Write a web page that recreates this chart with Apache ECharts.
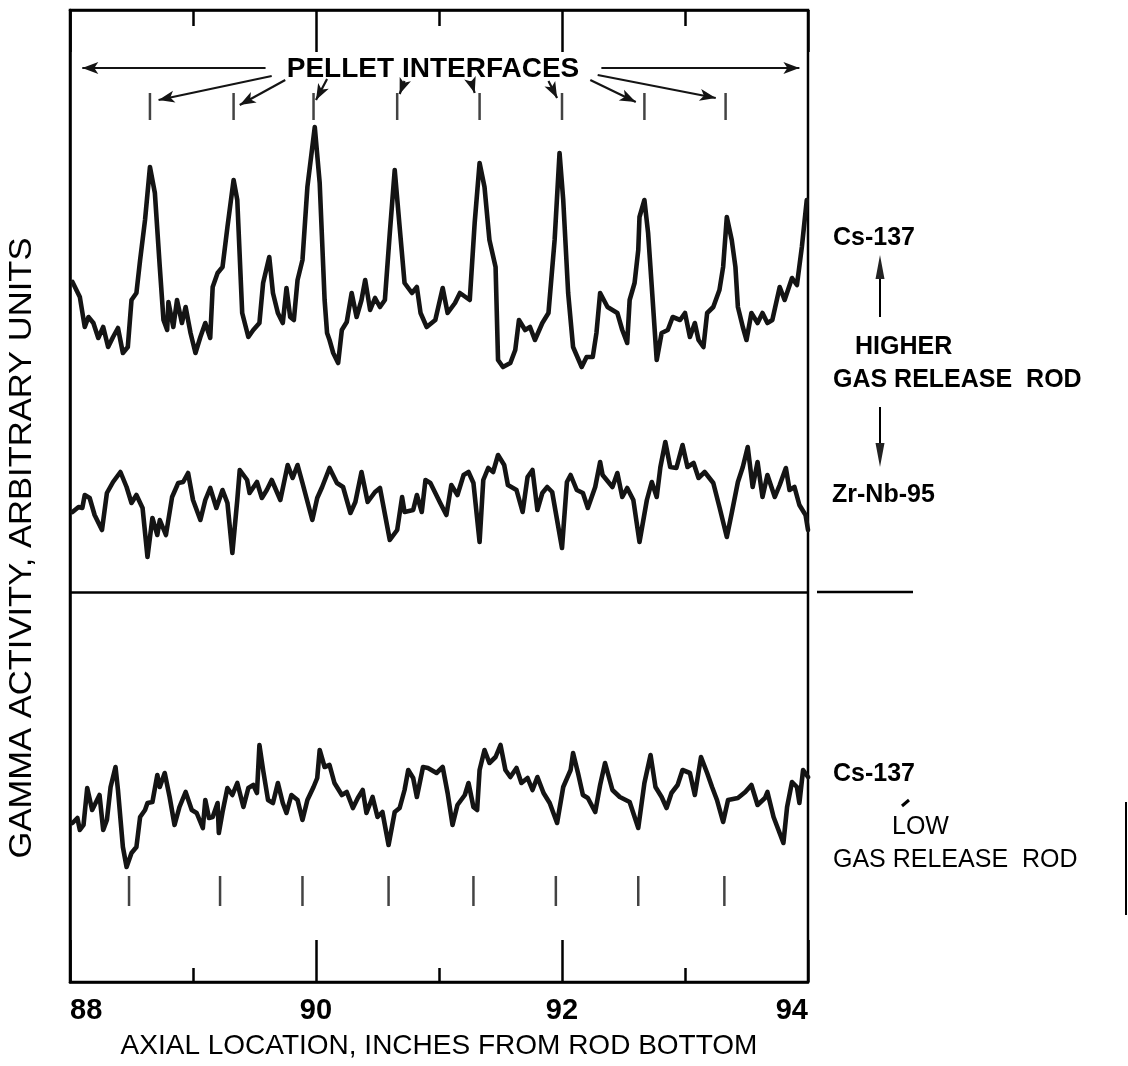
<!DOCTYPE html>
<html>
<head>
<meta charset="utf-8">
<style>
  html, body { margin: 0; padding: 0; background: #fff; }
  #chart { width: 1128px; height: 1066px; }
</style>
<script src="https://cdn.jsdelivr.net/npm/echarts@6/dist/echarts.min.js"></script>
</head>
<body>
<div id="chart"></div>
<script>
// ---------- DATA (axial location in inches, gamma activity in arbitrary units) ----------
const xMajorTicks = [88, 90, 92, 94];

const cs137High = [
  [88.02,70.0],[88.08,68.5],[88.12,65.5],[88.15,66.5],[88.19,65.9],[88.23,64.4],[88.27,65.5],[88.31,63.5],
  [88.35,64.5],[88.39,65.4],[88.43,62.9],[88.47,63.5],[88.50,68.2],[88.54,68.9],[88.57,72.2],[88.61,76.2],
  [88.65,81.5],[88.69,78.9],[88.73,71.5],[88.76,66.2],[88.79,65.2],[88.80,68.0],[88.84,65.5],[88.87,68.2],
  [88.91,65.9],[88.94,67.5],[88.98,64.9],[89.02,62.9],[89.06,64.5],[89.10,65.9],[89.14,64.4],[89.16,69.5],
  [89.20,70.9],[89.24,71.5],[89.28,75.5],[89.33,80.2],[89.36,78.2],[89.40,66.9],[89.45,64.5],[89.49,65.2],
  [89.54,65.9],[89.57,69.9],[89.62,72.5],[89.65,68.9],[89.69,66.9],[89.73,65.9],[89.76,69.4],[89.79,66.5],
  [89.82,66.2],[89.85,70.2],[89.89,72.2],[89.93,79.5],[89.99,85.5],[90.03,79.9],[90.07,68.2],[90.09,64.9],
  [90.11,64.2],[90.14,62.9],[90.18,61.9],[90.21,65.2],[90.25,66.0],[90.29,68.9],[90.33,66.5],[90.37,68.2],
  [90.40,70.2],[90.44,67.2],[90.48,68.4],[90.52,67.5],[90.56,68.2],[90.60,74.9],[90.64,81.2],[90.68,75.5],
  [90.72,69.9],[90.78,68.9],[90.82,69.5],[90.85,66.9],[90.90,65.5],[90.97,66.2],[91.03,69.4],[91.07,66.9],
  [91.13,67.9],[91.17,68.9],[91.25,68.2],[91.29,75.9],[91.33,81.9],[91.37,79.5],[91.41,74.2],[91.46,71.5],
  [91.48,62.2],[91.52,61.5],[91.58,61.9],[91.62,63.2],[91.65,66.2],[91.70,65.2],[91.74,65.5],[91.78,64.2],
  [91.84,65.9],[91.89,66.9],[91.94,74.2],[91.98,82.9],[92.01,78.2],[92.05,68.9],[92.09,63.5],[92.16,61.5],
  [92.20,62.5],[92.25,62.5],[92.28,64.9],[92.31,68.9],[92.37,67.5],[92.45,66.9],[92.49,65.2],[92.53,63.9],
  [92.55,68.2],[92.59,69.9],[92.62,73.2],[92.63,76.5],[92.67,78.2],[92.70,74.9],[92.73,69.5],[92.77,62.2],
  [92.81,64.9],[92.86,65.2],[92.90,66.5],[92.96,66.2],[93.00,66.9],[93.04,64.5],[93.08,65.9],[93.11,64.2],
  [93.15,63.5],[93.18,66.9],[93.23,67.5],[93.28,69.2],[93.31,71.5],[93.34,76.5],[93.38,74.2],[93.41,71.5],
  [93.43,67.5],[93.47,65.5],[93.50,64.2],[93.54,66.9],[93.59,65.9],[93.63,66.9],[93.67,65.9],[93.71,66.2],
  [93.77,69.5],[93.81,68.2],[93.87,70.4],[93.91,69.7],[93.95,73.5],[93.99,78.2]
];

const zrNb95High = [
  [88.02,47.0],[88.07,47.5],[88.10,47.4],[88.12,48.7],[88.16,48.4],[88.20,46.7],[88.26,45.2],[88.30,48.9],
  [88.35,50.0],[88.41,51.0],[88.46,49.5],[88.50,47.9],[88.54,48.7],[88.59,47.4],[88.63,42.5],[88.67,46.4],
  [88.71,44.7],[88.73,46.2],[88.78,44.7],[88.83,48.5],[88.88,49.9],[88.92,50.0],[88.96,50.9],[89.00,48.2],
  [89.06,46.2],[89.10,48.2],[89.14,49.4],[89.19,47.4],[89.24,49.2],[89.28,47.9],[89.32,42.9],[89.36,48.2],
  [89.38,51.2],[89.44,50.2],[89.46,48.9],[89.52,50.0],[89.56,48.4],[89.60,49.2],[89.64,50.2],[89.71,48.2],
  [89.77,51.7],[89.81,50.4],[89.85,51.7],[89.89,49.9],[89.97,46.2],[90.01,48.4],[90.05,49.5],[90.11,51.4],
  [90.17,49.9],[90.22,49.5],[90.28,46.9],[90.32,48.0],[90.37,51.0],[90.42,48.0],[90.48,49.0],[90.52,49.4],
  [90.60,44.2],[90.66,45.2],[90.70,48.5],[90.72,47.0],[90.79,47.2],[90.82,48.7],[90.86,47.0],[90.89,50.2],
  [90.93,49.9],[90.97,48.9],[91.01,47.9],[91.06,46.7],[91.10,49.7],[91.15,48.7],[91.20,50.7],[91.24,51.0],
  [91.28,49.9],[91.33,44.0],[91.36,50.2],[91.40,51.4],[91.44,51.0],[91.48,52.7],[91.53,51.7],[91.56,49.7],
  [91.63,49.2],[91.68,47.0],[91.72,50.5],[91.76,51.2],[91.80,47.2],[91.84,48.9],[91.88,49.5],[91.92,49.0],
  [92.00,43.4],[92.04,50.0],[92.07,50.7],[92.12,49.2],[92.17,48.9],[92.21,47.4],[92.27,49.5],[92.31,52.0],
  [92.33,50.7],[92.41,49.5],[92.45,50.9],[92.49,48.5],[92.53,49.4],[92.58,48.2],[92.63,44.0],[92.69,48.2],
  [92.73,50.0],[92.77,48.5],[92.80,51.5],[92.84,54.0],[92.88,51.5],[92.93,51.4],[92.98,53.7],[93.02,51.5],
  [93.07,51.9],[93.11,50.4],[93.16,51.0],[93.23,49.9],[93.28,47.5],[93.34,44.5],[93.38,46.9],[93.43,50.0],
  [93.47,51.5],[93.51,53.5],[93.55,49.5],[93.59,52.0],[93.63,48.5],[93.67,50.7],[93.73,48.5],[93.77,49.7],
  [93.82,51.4],[93.85,49.2],[93.89,49.5],[93.93,47.7],[93.98,46.7],[94.00,45.2]
];

const cs137Low = [
  [88.02,15.9],[88.06,16.4],[88.08,15.2],[88.11,15.7],[88.14,19.4],[88.18,17.2],[88.22,18.2],[88.24,18.7],
  [88.27,15.2],[88.30,16.2],[88.33,19.5],[88.37,21.5],[88.39,19.2],[88.43,13.5],[88.46,11.5],[88.50,12.9],
  [88.54,13.5],[88.57,16.5],[88.61,17.2],[88.63,17.9],[88.67,18.0],[88.71,20.7],[88.73,19.5],[88.77,20.9],
  [88.81,18.5],[88.85,15.7],[88.89,17.5],[88.94,19.0],[88.99,17.2],[89.03,16.9],[89.08,15.4],[89.10,18.2],
  [89.13,16.4],[89.16,16.5],[89.20,17.9],[89.21,14.9],[89.24,17.0],[89.28,19.4],[89.32,18.7],[89.36,19.9],
  [89.41,17.5],[89.45,19.4],[89.49,19.7],[89.52,18.9],[89.54,23.7],[89.57,21.2],[89.61,18.2],[89.65,17.9],
  [89.69,19.9],[89.73,17.9],[89.76,16.9],[89.80,18.7],[89.85,18.2],[89.89,16.2],[89.93,18.2],[89.98,19.5],
  [90.01,20.4],[90.03,23.2],[90.07,21.5],[90.11,21.7],[90.15,19.9],[90.21,18.7],[90.25,19.0],[90.30,17.4],
  [90.34,18.4],[90.38,19.2],[90.41,16.9],[90.46,18.5],[90.50,16.5],[90.54,17.0],[90.59,13.7],[90.64,17.0],
  [90.68,17.4],[90.72,19.2],[90.75,21.2],[90.79,20.4],[90.82,18.5],[90.87,21.5],[90.91,21.4],[90.98,20.9],
  [91.03,21.5],[91.07,18.9],[91.11,15.7],[91.15,17.7],[91.21,18.7],[91.24,19.9],[91.28,17.5],[91.31,17.2],
  [91.33,21.2],[91.37,23.2],[91.41,21.9],[91.46,22.5],[91.50,23.7],[91.54,21.2],[91.58,20.5],[91.63,21.4],
  [91.67,19.9],[91.72,20.4],[91.76,19.2],[91.80,20.5],[91.85,18.9],[91.90,17.9],[91.96,15.9],[92.01,19.5],
  [92.07,21.2],[92.09,22.9],[92.13,20.9],[92.17,18.7],[92.21,18.4],[92.27,17.0],[92.31,19.7],[92.35,21.9],
  [92.41,19.2],[92.47,18.5],[92.55,18.0],[92.62,15.4],[92.67,19.9],[92.72,22.7],[92.76,19.5],[92.81,18.5],
  [92.85,17.4],[92.89,18.9],[92.94,19.7],[92.98,21.2],[93.04,20.9],[93.08,18.7],[93.13,22.5],[93.18,20.9],
  [93.22,19.5],[93.26,18.2],[93.31,16.0],[93.35,18.2],[93.43,18.4],[93.49,19.0],[93.54,19.7],[93.59,17.7],
  [93.65,18.4],[93.67,19.0],[93.72,16.5],[93.76,15.2],[93.80,13.9],[93.83,17.5],[93.87,20.0],[93.91,19.5],
  [93.93,17.9],[93.96,21.2],[94.00,20.5]
];

// pellet interface positions (inches)
const interfacesHigh = [88.65, 89.33, 89.98, 90.66, 91.33, 92.00, 92.67, 93.33];
const interfacesLow  = [88.48, 89.22, 89.89, 90.59, 91.28, 91.95, 92.62, 93.32];
const interfaceMarkHighY = 87.55;
const interfaceMarkLowY = 9.1;

// "PELLET INTERFACES" arrows: [fromX, fromY, toX, toY] in data units
const pelletArrows = [
  [89.59, 91.4, 88.10, 91.4],
  [92.32, 91.4, 93.93, 91.4],
  [89.64, 90.6, 88.72, 88.2],
  [89.75, 90.2, 89.38, 87.7],
  [90.09, 90.3, 90.00, 88.2],
  [90.72, 90.1, 90.68, 88.8],
  [91.26, 90.1, 91.29, 88.9],
  [91.89, 90.1, 91.96, 88.4],
  [92.23, 90.2, 92.60, 88.0],
  [92.29, 90.7, 93.25, 88.4]
];
const separatorY = 39.0;

// ---------- CHART ----------
const chart = echarts.init(document.getElementById('chart'), null, { renderer: 'canvas' });
const FONT = 'Liberation Sans, Arial, Helvetica, sans-serif';
const INK = '#141414';

const traceStyle = { color: INK, width: 4.6, join: 'round', cap: 'round' };

const option = {
  animation: false,
  backgroundColor: '#fff',
  grid: { left: 70, right: 320, top: 10, bottom: 84, show: true, borderColor: '#000', borderWidth: 2.5, backgroundColor: 'transparent' },
  xAxis: [
    {
      type: 'value', min: 88, max: 94, interval: 2, position: 'bottom',
      axisLine: { show: true, onZero: false, lineStyle: { color: '#000', width: 2.5 } },
      axisTick: { show: true, inside: true, length: 42, lineStyle: { color: '#000', width: 2.5 } },
      minorTick: { show: true, splitNumber: 2, length: 14, lineStyle: { color: '#000', width: 2.5 } },
      splitLine: { show: false },
      axisLabel: {
        show: true, margin: 14, color: '#000', fontFamily: FONT, fontSize: 29, fontWeight: 'bold',
        alignMinLabel: 'left', alignMaxLabel: 'right',
        formatter: v => xMajorTicks.includes(v) ? String(v) : ''
      },
      name: 'AXIAL LOCATION, INCHES FROM ROD BOTTOM',
      nameLocation: 'middle', nameGap: 50,
      nameTextStyle: { color: '#000', fontFamily: FONT, fontSize: 28 }
    },
    {
      type: 'value', min: 88, max: 94, interval: 2, position: 'top',
      axisLine: { show: true, onZero: false, lineStyle: { color: '#000', width: 2.5 } },
      axisTick: { show: true, inside: true, length: 42, lineStyle: { color: '#000', width: 2.5 } },
      minorTick: { show: true, splitNumber: 2, length: 16, lineStyle: { color: '#000', width: 2.5 } },
      splitLine: { show: false },
      axisLabel: { show: false }
    }
  ],
  yAxis: [{
    type: 'value', min: 0, max: 97.2,
    axisLine: { show: true, onZero: false, lineStyle: { color: '#000', width: 2.5 } },
    axisTick: { show: false }, axisLabel: { show: false }, splitLine: { show: false }
  }],
  series: [
    {
      name: 'Cs-137 (higher gas release rod)', type: 'line', data: cs137High,
      showSymbol: false, lineStyle: traceStyle, z: 3,
      markLine: {
        silent: true, animation: false,
        symbol: ['none', 'arrow'], symbolSize: [9, 16],
        label: { show: false },
        lineStyle: { color: INK, width: 2.2, type: 'solid' },
        data: pelletArrows.map(a => [{ coord: [a[0], a[1]] }, { coord: [a[2], a[3]] }])
          .concat([[{ coord: [88, separatorY], symbol: 'none' }, { coord: [94, separatorY], symbol: 'none', lineStyle: { width: 2.5, color: '#000' } }]])
      }
    },
    { name: 'Zr-Nb-95 (higher gas release rod)', type: 'line', data: zrNb95High, showSymbol: false, lineStyle: traceStyle, z: 3 },
    { name: 'Cs-137 (low gas release rod)', type: 'line', data: cs137Low, showSymbol: false, lineStyle: traceStyle, z: 3 },
    {
      name: 'interfaces high', type: 'scatter', symbol: 'rect', symbolSize: [2.5, 27],
      itemStyle: { color: INK }, silent: true,
      data: interfacesHigh.map(x => [x, interfaceMarkHighY])
    },
    {
      name: 'interfaces low', type: 'scatter', symbol: 'rect', symbolSize: [2.5, 30],
      itemStyle: { color: INK }, silent: true,
      data: interfacesLow.map(x => [x, interfaceMarkLowY])
    }
  ],
  graphic: [
    // y axis title
    { type: 'text', x: 22, y: 548, rotation: Math.PI / 2, scaleX: 1.08,
      style: { text: 'GAMMA ACTIVITY, ARBITRARY UNITS', fontFamily: FONT, fontSize: 32, fill: '#000', align: 'center', verticalAlign: 'middle' } },
    // top annotation
    { type: 'text', x: 433, y: 69,
      style: { text: 'PELLET INTERFACES', fontFamily: FONT, fontSize: 28, fontWeight: 'bold', fill: '#000', align: 'center', verticalAlign: 'middle' } },
    // right labels
    { type: 'text', x: 833, y: 238, style: { text: 'Cs-137', fontFamily: FONT, fontSize: 25, fontWeight: 'bold', fill: '#000', align: 'left', verticalAlign: 'middle' } },
    { type: 'line', shape: { x1: 880, y1: 317, x2: 880, y2: 276 }, style: { stroke: '#000', lineWidth: 2 } },
    { type: 'polygon', shape: { points: [[880, 255], [875.5, 279], [884.5, 279]] }, style: { fill: '#222' } },
    { type: 'text', x: 855, y: 347, style: { text: 'HIGHER', fontFamily: FONT, fontSize: 25, fontWeight: 'bold', fill: '#000', align: 'left', verticalAlign: 'middle' } },
    { type: 'text', x: 833, y: 380, style: { text: 'GAS RELEASE  ROD', fontFamily: FONT, fontSize: 25, fontWeight: 'bold', fill: '#000', align: 'left', verticalAlign: 'middle' } },
    { type: 'line', shape: { x1: 880, y1: 407, x2: 880, y2: 446 }, style: { stroke: '#000', lineWidth: 2 } },
    { type: 'polygon', shape: { points: [[875.5, 443], [884.5, 443], [880, 467]] }, style: { fill: '#222' } },
    { type: 'text', x: 832, y: 495, style: { text: 'Zr-Nb-95', fontFamily: FONT, fontSize: 25, fontWeight: 'bold', fill: '#000', align: 'left', verticalAlign: 'middle' } },
    { type: 'line', shape: { x1: 817, y1: 592, x2: 913, y2: 592 }, style: { stroke: '#000', lineWidth: 2.5 } },
    { type: 'text', x: 833, y: 774, style: { text: 'Cs-137', fontFamily: FONT, fontSize: 25, fontWeight: 'bold', fill: '#000', align: 'left', verticalAlign: 'middle' } },
    { type: 'line', shape: { x1: 902, y1: 806, x2: 909, y2: 800 }, style: { stroke: '#000', lineWidth: 3 } },
    { type: 'text', x: 892, y: 827, style: { text: 'LOW', fontFamily: FONT, fontSize: 25, fill: '#000', align: 'left', verticalAlign: 'middle' } },
    { type: 'text', x: 833, y: 860, style: { text: 'GAS RELEASE  ROD', fontFamily: FONT, fontSize: 25, fill: '#000', align: 'left', verticalAlign: 'middle' } },
    { type: 'line', shape: { x1: 1126, y1: 802, x2: 1126, y2: 915 }, style: { stroke: '#000', lineWidth: 2 } }
  ]
};
chart.setOption(option);
</script>
</body>
</html>
